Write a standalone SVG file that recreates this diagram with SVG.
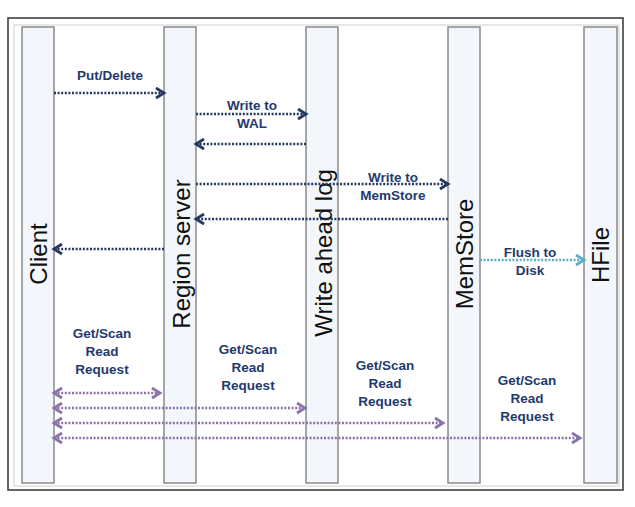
<svg xmlns="http://www.w3.org/2000/svg" width="635" height="507" viewBox="0 0 635 507">
<style>
.lane{fill:#f3f7fb;stroke:#8a8a8a;stroke-width:1.5}
.lname{font-family:"Liberation Sans",Arial,sans-serif;font-size:24px;fill:#111;text-anchor:middle}
.lbl{font-family:"Liberation Sans",Arial,sans-serif;font-size:13.5px;font-weight:bold;fill:#1f3a6e;text-anchor:middle}
.w{fill:none;stroke:#25375f;stroke-width:2.6;stroke-dasharray:2 1.6;marker-end:url(#an)}
.f{fill:none;stroke:#5aaec4;stroke-width:2.6;stroke-dasharray:2 1.6;marker-end:url(#at)}
.r{fill:none;stroke:#8a72ab;stroke-width:2.6;stroke-dasharray:2 1.6;marker-end:url(#ap);marker-start:url(#ap)}
</style>
<defs>
<marker id="an" markerUnits="userSpaceOnUse" markerWidth="13" markerHeight="13" refX="10" refY="6.5" orient="auto-start-reverse" viewBox="0 0 13 13"><path d="M2,1.5 L10,6.5 L2,11.5" fill="none" stroke="#25375f" stroke-width="2.8"/></marker>
<marker id="at" markerUnits="userSpaceOnUse" markerWidth="13" markerHeight="13" refX="10" refY="6.5" orient="auto-start-reverse" viewBox="0 0 13 13"><path d="M2,1.5 L10,6.5 L2,11.5" fill="none" stroke="#5aaec4" stroke-width="2.8"/></marker>
<marker id="ap" markerUnits="userSpaceOnUse" markerWidth="13" markerHeight="13" refX="10" refY="6.5" orient="auto-start-reverse" viewBox="0 0 13 13"><path d="M2,1.5 L10,6.5 L2,11.5" fill="none" stroke="#8a72ab" stroke-width="2.8"/></marker>
</defs>
<rect x="0" y="0" width="635" height="507" fill="#fff"/>
<rect x="8" y="18" width="615" height="472" fill="#fff" stroke="#333" stroke-width="1.5"/>
<rect x="14" y="25" width="605" height="461" fill="none" stroke="#d0d0d0" stroke-width="1"/>

<g id="client"><rect class="lane" x="22" y="27" width="32" height="456"/><text class="lname" transform="translate(39,254) rotate(-90)" x="0" y="8">Client</text></g>
<g id="region-server"><rect class="lane" x="164" y="27" width="32" height="456"/><text class="lname" transform="translate(182,254) rotate(-90)" x="0" y="8">Region server</text></g>
<g id="write-ahead-log"><rect class="lane" x="306" y="27" width="32" height="456"/><text class="lname" transform="translate(324,253) rotate(-90)" x="0" y="8">Write ahead log</text></g>
<g id="memstore"><rect class="lane" x="448" y="27" width="32" height="456"/><text class="lname" transform="translate(465,254) rotate(-90)" x="0" y="8">MemStore</text></g>
<g id="hfile"><rect class="lane" x="584" y="27" width="33" height="456"/><text class="lname" transform="translate(601,255) rotate(-90)" x="0" y="8">HFile</text></g>

<g id="connectors">
<line class="w" x1="54" y1="93" x2="164" y2="93"/>
<line class="w" x1="196" y1="114" x2="306" y2="114"/>
<line class="w" x1="306" y1="144" x2="196" y2="144"/>
<line class="w" x1="196" y1="184" x2="448" y2="184"/>
<line class="w" x1="448" y1="219" x2="196" y2="219"/>
<line class="w" x1="164" y1="249" x2="54" y2="249"/>
<line class="f" x1="480" y1="260" x2="584" y2="260"/>
<line class="r" x1="54" y1="393" x2="160" y2="393"/>
<line class="r" x1="54" y1="408" x2="305" y2="408"/>
<line class="r" x1="54" y1="423" x2="443" y2="423"/>
<line class="r" x1="54" y1="438" x2="580" y2="438"/>
</g>

<g id="labels">
<text class="lbl" x="110" y="80">Put/Delete</text>
<text class="lbl" x="252" y="110">Write to</text>
<text class="lbl" x="252" y="128">WAL</text>
<text class="lbl" x="393" y="182">Write to</text>
<text class="lbl" x="393" y="200">MemStore</text>
<text class="lbl" x="530" y="257">Flush to</text>
<text class="lbl" x="530" y="275">Disk</text>
<text class="lbl" x="102" y="338">Get/Scan</text>
<text class="lbl" x="102" y="356">Read</text>
<text class="lbl" x="102" y="374">Request</text>
<text class="lbl" x="248" y="354">Get/Scan</text>
<text class="lbl" x="248" y="372">Read</text>
<text class="lbl" x="248" y="390">Request</text>
<text class="lbl" x="385" y="370">Get/Scan</text>
<text class="lbl" x="385" y="388">Read</text>
<text class="lbl" x="385" y="406">Request</text>
<text class="lbl" x="527" y="385">Get/Scan</text>
<text class="lbl" x="527" y="403">Read</text>
<text class="lbl" x="527" y="421">Request</text>
</g>
</svg>
